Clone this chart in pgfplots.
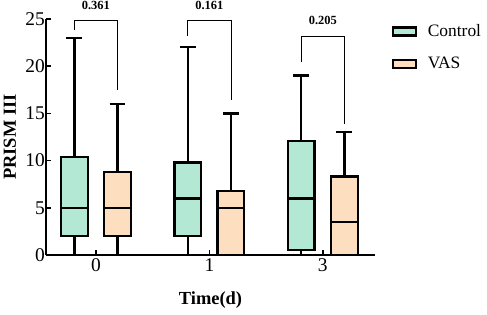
\documentclass[border=0pt]{standalone}
\usepackage{fontspec}
\setmainfont{Liberation Serif}
\usepackage{pgfplots}
\pgfplotsset{compat=1.18}
\usepgfplotslibrary{statistics}
\definecolor{mint}{RGB}{179,232,212}
\definecolor{peach}{RGB}{253,222,190}
\begin{document}
\begin{tikzpicture}
\useasboundingbox (-46bp,-60bp) rectangle (441bp,255bp);
\begin{axis}[
  at={(0,0)}, anchor=south west,
  scale only axis, width=329bp, height=236bp,
  xmin=-0.44, xmax=2.46, ymin=0, ymax=25,
  clip=false,
  axis x line=bottom, axis y line=left,
  axis line style={-, line width=2.3bp},
  tick align=inside, major tick length=5bp,
  tick style={line width=1.5bp, black},
  xtick={0,1,2}, xticklabels={0,1,3},
  ytick={0,5,10,15,20,25},
  /pgf/number format/assume math mode=true,
  tick label style={font=\fontsize{19.5}{19.5}\selectfont},
  yticklabel style={inner xsep=1bp},
  xlabel={\textbf{Time(d)}}, ylabel={\textbf{PRISM III}},
  label style={font=\fontsize{18.5}{18}\selectfont},
  xlabel style={at={(axis description cs:0.5,-0.19)}, anchor=center},
  ylabel style={at={(axis description cs:-0.11,0.5)}, anchor=center},
  legend style={draw=none, fill=none, at={(axis description cs:1.05,0.985)}, anchor=north west,
    font=\fontsize{17.5}{18}\selectfont, row sep=15bp, inner sep=0pt},
  legend cell align=left,
  legend image code/.code={\draw[#1, line width=2.3bp] (0bp,-4bp) rectangle (23bp,4bp); \path[draw=none, fill=none] (23bp,0bp) -- (33bp,0bp);},
  boxplot/draw direction=y,
  boxplot/box extend=0.235,
  boxplot/whisker extend=0.14,
]
\addlegendimage{fill=mint, draw=black}
\addlegendentry{Control}
\addlegendimage{fill=peach, draw=black}
\addlegendentry{VAS}
% group 0
\addplot[boxplot prepared={draw position=-0.19, lower whisker=0, lower quartile=2, median=5, upper quartile=10.4, upper whisker=23}, fill=mint, draw=black, line width=2.3bp] coordinates {};
\addplot[boxplot prepared={draw position=0.19, lower whisker=0, lower quartile=2, median=5, upper quartile=8.8, upper whisker=16}, fill=peach, draw=black, line width=2.3bp] coordinates {};
% group 1
\addplot[boxplot prepared={draw position=0.81, lower whisker=0, lower quartile=2, median=6, upper quartile=9.8, upper whisker=22}, fill=mint, draw=black, line width=2.3bp] coordinates {};
\addplot[boxplot prepared={draw position=1.19, lower whisker=0, lower quartile=0, median=5, upper quartile=6.8, upper whisker=15}, fill=peach, draw=black, line width=2.3bp] coordinates {};
% group 3
\addplot[boxplot prepared={draw position=1.81, lower whisker=0, lower quartile=0.5, median=6, upper quartile=12.1, upper whisker=19}, fill=mint, draw=black, line width=2.3bp] coordinates {};
\addplot[boxplot prepared={draw position=2.19, lower whisker=0, lower quartile=0, median=3.5, upper quartile=8.3, upper whisker=13}, fill=peach, draw=black, line width=2.3bp] coordinates {};
% brackets
\draw[line width=0.8bp] (axis cs:-0.19,23.8) |- (axis cs:0.19,24.9) -- (axis cs:0.19,17.5);
\draw[line width=0.8bp] (axis cs:0.81,23.2) |- (axis cs:1.19,24.9) -- (axis cs:1.19,16.4);
\draw[line width=0.8bp] (axis cs:1.81,20.4) |- (axis cs:2.19,23.2) -- (axis cs:2.19,13.9);
\node[font=\bfseries\fontsize{12.5}{13}\selectfont] at (axis cs:0,26.4) {0.361};
\node[font=\bfseries\fontsize{12.5}{13}\selectfont] at (axis cs:1,26.4) {0.161};
\node[font=\bfseries\fontsize{12.5}{13}\selectfont] at (axis cs:2,24.8) {0.205};
\end{axis}
\end{tikzpicture}
\end{document}
